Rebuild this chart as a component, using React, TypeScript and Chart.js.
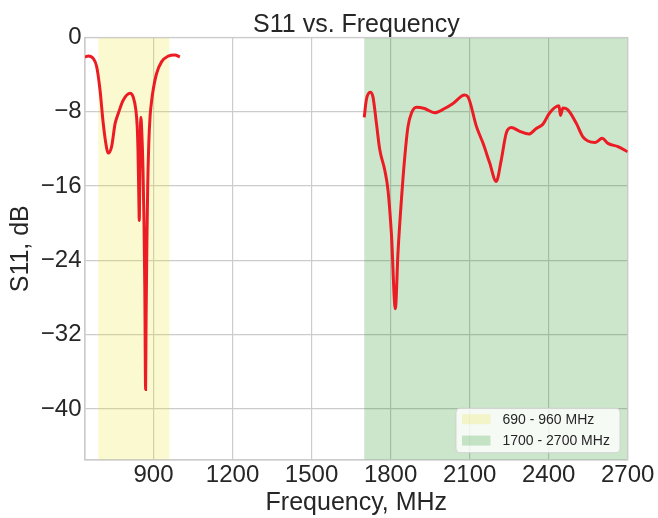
import React, { useEffect, useRef } from "react";
import { Chart, registerables } from "chart.js";

Chart.register(...registerables);

const titleText = "S11 vs. Frequency";
const xTitle = "Frequency, MHz";
const yTitle = "S11, dB";

const xTicks = [900, 1200, 1500, 1800, 2100, 2400, 2700];
const yTicks = [-40, -32, -24, -16, -8, 0];
const yTickLabels = ["\u221240", "\u221232", "\u221224", "\u221216", "\u22128", "0"];

const freqLow = [640, 652, 671, 684, 697, 709, 722, 728, 741, 754, 760, 766, 785, 811, 823, 833, 838, 841, 843, 845, 846, 848, 850, 852, 856, 860, 864, 867, 870, 872, 875, 878, 882, 887, 893, 899, 912, 931, 956, 981, 1000];
const s11Low = [-2.1, -2.0, -2.25, -3.1, -5.65, -9.2, -11.9, -12.45, -11.75, -9.3, -8.7, -8.2, -6.75, -6.0, -6.4, -7.8, -9.5, -12, -15, -18.5, -19.7, -15, -10.5, -8.6, -10.5, -14, -20, -27, -37.9, -30, -22, -16, -11.5, -8.5, -6.8, -5.6, -3.85, -2.6, -2.0, -1.88, -2.1];

const freqHigh = [1700, 1708, 1723, 1733, 1746, 1759, 1778, 1790, 1803, 1818, 1828, 1841, 1854, 1866, 1879, 1898, 1929, 1967, 2005, 2037, 2081, 2094, 2126, 2151, 2176, 2201, 2220, 2239, 2258, 2290, 2325, 2353, 2378, 2404, 2439, 2445, 2454, 2473, 2505, 2530, 2549, 2577, 2603, 2625, 2663, 2700];
const s11High = [-8.6, -6.7, -5.9, -6.4, -9.2, -12.1, -14.3, -16.4, -21.1, -29.2, -23.2, -17.5, -12.8, -9.6, -8.15, -7.5, -7.65, -8.1, -7.65, -7.1, -6.2, -6.4, -9.6, -11.4, -13.5, -15.5, -13.2, -10.3, -9.7, -10.1, -10.4, -9.8, -9.35, -8.1, -7.35, -8.4, -7.6, -7.8, -9.25, -10.7, -11.15, -11.3, -10.85, -11.4, -11.75, -12.3];

const bandLabels = ["690 - 960 MHz", "1700 - 2700 MHz"];
const bandStart = [690, 1700];
const bandEnd = [960, 2700];
const bandColors = ["rgba(235,225,20,0.2)", "rgba(0,128,0,0.2)"];

const FONT = "'Liberation Sans', Arial, sans-serif";
const TEXT = "#262626";
const GRID = "#cccccc";

const bandsPlugin = {
  id: "bands",
  beforeDatasetsDraw(chart: any) {
    const { ctx, chartArea, scales } = chart;
    ctx.save();
    ctx.beginPath();
    ctx.rect(chartArea.left, chartArea.top, chartArea.right - chartArea.left, chartArea.bottom - chartArea.top);
    ctx.clip();
    for (let i = 0; i < bandStart.length; i++) {
      const x0 = scales.x.getPixelForValue(bandStart[i]);
      const x1 = scales.x.getPixelForValue(bandEnd[i]);
      ctx.fillStyle = bandColors[i];
      ctx.fillRect(x0, chartArea.top, x1 - x0, chartArea.bottom - chartArea.top);
    }
    ctx.restore();
    ctx.save();
    ctx.strokeStyle = GRID;
    ctx.lineWidth = 1.2;
    ctx.strokeRect(chartArea.left, chartArea.top, chartArea.right - chartArea.left, chartArea.bottom - chartArea.top);
    ctx.restore();
  },
  afterDatasetsDraw(chart: any) {
    const { ctx, chartArea } = chart;
    // title centred over the plot area
    ctx.save();
    ctx.font = `25px ${FONT}`;
    ctx.fillStyle = TEXT;
    ctx.textAlign = "center";
    ctx.textBaseline = "alphabetic";
    ctx.fillText(titleText, (chartArea.left + chartArea.right) / 2, chartArea.top - 6);
    ctx.restore();

    const w = 164;
    const h = 44.5;
    const right = chartArea.right - 7.7;
    const bottom = chartArea.bottom - 7.3;
    const left = right - w;
    const top = bottom - h;
    ctx.save();
    ctx.beginPath();
    if (ctx.roundRect) ctx.roundRect(left, top, w, h, 4);
    else ctx.rect(left, top, w, h);
    ctx.fillStyle = "rgba(255,255,255,0.8)";
    ctx.fill();
    ctx.strokeStyle = "rgba(204,204,204,0.8)";
    ctx.lineWidth = 1;
    ctx.stroke();
    ctx.font = `14px ${FONT}`;
    ctx.textBaseline = "middle";
    ctx.textAlign = "left";
    for (let i = 0; i < bandLabels.length; i++) {
      const cy = top + 11 + i * 21.4;
      ctx.fillStyle = bandColors[i];
      ctx.fillRect(left + 6, cy - 5, 28.5, 10);
      ctx.fillStyle = TEXT;
      ctx.fillText(bandLabels[i], left + 46.5, cy + 0.5);
    }
    ctx.restore();
  },
};

export default function App() {
  const ref = useRef<HTMLCanvasElement | null>(null);
  useEffect(() => {
    if (!ref.current) return;
    const points: any[] = [];
    freqLow.forEach((f, i) => points.push({ x: f, y: s11Low[i] }));
    points.push({ x: 1350, y: null });
    freqHigh.forEach((f, i) => points.push({ x: f, y: s11High[i] }));
    const chart = new Chart(ref.current, {
      type: "line",
      data: {
        datasets: [
          {
            label: "S11",
            data: points,
            borderColor: "#ec1c24",
            borderWidth: 3,
            pointRadius: 0,
            cubicInterpolationMode: "monotone",
            spanGaps: false,
            fill: false,
          },
        ],
      },
      options: {
        responsive: false,
        animation: false,
        devicePixelRatio: 1,
        layout: { padding: { left: 0, right: 30.3, top: 37.5, bottom: 0 } },
        plugins: {
          legend: { display: false },
          tooltip: { enabled: false },
          title: { display: false },
        },
        scales: {
          x: {
            type: "linear",
            min: 640,
            max: 2700,
            afterBuildTicks: (scale: any) => {
              scale.ticks = xTicks.map((v) => ({ value: v }));
            },
            afterFit: (scale: any) => {
              scale.height = 58;
            },
            grid: { color: GRID, lineWidth: 1.2, drawTicks: false },
            border: { color: GRID, width: 1.2 },
            ticks: {
              color: TEXT,
              padding: 1,
              maxRotation: 0,
              font: { family: FONT, size: 24 },
              callback: (v: any) => String(v),
            },
            title: {
              display: true,
              text: xTitle,
              color: TEXT,
              font: { family: FONT, size: 25 },
              padding: { top: 0, bottom: 0 },
            },
          },
          y: {
            type: "linear",
            min: -45.5,
            max: 0,
            afterBuildTicks: (scale: any) => {
              scale.ticks = yTicks.map((v) => ({ value: v }));
            },
            afterFit: (scale: any) => {
              scale.width = 85;
            },
            grid: { color: GRID, lineWidth: 1.2, drawTicks: false },
            border: { color: GRID, width: 1.2 },
            ticks: {
              color: TEXT,
              padding: 3.5,
              font: { family: FONT, size: 24 },
              callback: (v: any) => {
                const i = yTicks.indexOf(Number(v));
                return i >= 0 ? yTickLabels[i] : "";
              },
            },
            title: {
              display: true,
              text: yTitle,
              color: TEXT,
              font: { family: FONT, size: 25 },
              padding: { top: 6.2, bottom: 0 },
            },
          },
        },
      },
      plugins: [bandsPlugin],
    } as any);
    return () => chart.destroy();
  }, []);
  return (
    <div style={{ position: "absolute", left: 0, top: 0, width: 658, height: 518, background: "#fff" }}>
      <canvas ref={ref} width={658} height={518} style={{ display: "block" }} />
    </div>
  );
}
